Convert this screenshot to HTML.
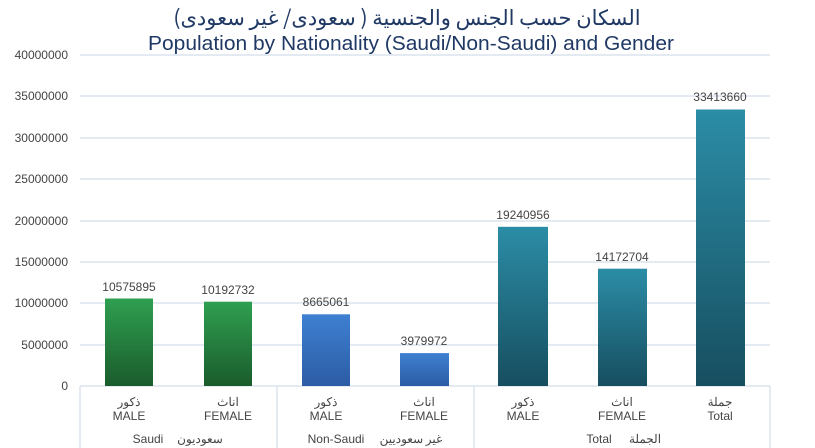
<!DOCTYPE html>
<html><head><meta charset="utf-8"><style>
body{margin:0;background:#fff;}
svg{display:block;font-family:"Liberation Sans","Noto Sans CJK SC",sans-serif;}
</style></head><body>
<svg width="815" height="448" viewBox="0 0 815 448">
<defs>
<linearGradient id="g" x1="0" y1="0" x2="0" y2="1"><stop offset="0" stop-color="#2f9f50"/><stop offset="1" stop-color="#1a5c2c"/></linearGradient>
<linearGradient id="b" x1="0" y1="0" x2="0" y2="1"><stop offset="0" stop-color="#3e80d2"/><stop offset="1" stop-color="#2c5ca4"/></linearGradient>
<linearGradient id="t" x1="0" y1="0" x2="0" y2="1"><stop offset="0" stop-color="#2b8da6"/><stop offset="1" stop-color="#174e60"/></linearGradient>
</defs>
<rect width="815" height="448" fill="#fff"/>
<text x="407" y="25" font-size="21" text-anchor="middle" fill="#1f3864" font-family="'Noto Sans CJK SC',sans-serif">السكان حسب الجنس والجنسية ( سعودى/ غير سعودى)</text>
<text x="411" y="50" font-size="20.5" text-anchor="middle" fill="#1f3864" textLength="526" lengthAdjust="spacingAndGlyphs">Population by Nationality (Saudi/Non-Saudi)  and Gender</text>
<g stroke="#dbe4ee" stroke-width="1.5">
<line x1="80" y1="55" x2="770" y2="55"/><line x1="80" y1="96" x2="770" y2="96"/><line x1="80" y1="138" x2="770" y2="138"/><line x1="80" y1="179" x2="770" y2="179"/><line x1="80" y1="221" x2="770" y2="221"/><line x1="80" y1="262" x2="770" y2="262"/><line x1="80" y1="303" x2="770" y2="303"/><line x1="80" y1="345" x2="770" y2="345"/><line x1="80" y1="386" x2="770" y2="386"/>
<line x1="80" y1="386" x2="80" y2="448"/><line x1="277" y1="386" x2="277" y2="448"/><line x1="474" y1="386" x2="474" y2="448"/><line x1="770" y1="386" x2="770" y2="448"/>
</g>
<g font-size="12" fill="#444" text-anchor="end">
<text x="68" y="59">40000000</text><text x="68" y="100">35000000</text><text x="68" y="142">30000000</text><text x="68" y="183">25000000</text><text x="68" y="225">20000000</text><text x="68" y="266">15000000</text><text x="68" y="307">10000000</text><text x="68" y="349">5000000</text><text x="68" y="390">0</text>
</g>
<rect x="105" y="298.5" width="48" height="87.5" fill="url(#g)"/>
<rect x="204" y="301.7" width="48" height="84.3" fill="url(#g)"/>
<rect x="302" y="314.3" width="48" height="71.7" fill="url(#b)"/>
<rect x="400" y="353.1" width="49" height="32.9" fill="url(#b)"/>
<rect x="498" y="226.8" width="50" height="159.2" fill="url(#t)"/>
<rect x="598" y="268.7" width="49" height="117.3" fill="url(#t)"/>
<rect x="696" y="109.5" width="49" height="276.5" fill="url(#t)"/>
<g font-size="12" fill="#444" text-anchor="middle">
<text x="129" y="291">10575895</text><text x="228" y="294">10192732</text><text x="326" y="306">8665061</text><text x="424" y="345">3979972</text><text x="523" y="219">19240956</text><text x="622" y="261">14172704</text><text x="720" y="101">33413660</text>
</g>
<g font-size="12" fill="#444" text-anchor="middle">
<text x="129" y="406" font-family="'Noto Sans CJK SC',sans-serif">ذكور</text><text x="129" y="420">MALE</text>
<text x="228" y="406" font-family="'Noto Sans CJK SC',sans-serif">اناث</text><text x="228" y="420">FEMALE</text>
<text x="326" y="406" font-family="'Noto Sans CJK SC',sans-serif">ذكور</text><text x="326" y="420">MALE</text>
<text x="424" y="406" font-family="'Noto Sans CJK SC',sans-serif">اناث</text><text x="424" y="420">FEMALE</text>
<text x="523" y="406" font-family="'Noto Sans CJK SC',sans-serif">ذكور</text><text x="523" y="420">MALE</text>
<text x="622" y="406" font-family="'Noto Sans CJK SC',sans-serif">اناث</text><text x="622" y="420">FEMALE</text>
<text x="720" y="406" font-family="'Noto Sans CJK SC',sans-serif">جملة</text><text x="720" y="420">Total</text>
<text x="148" y="443">Saudi</text><text x="200" y="443" font-family="'Noto Sans CJK SC',sans-serif">سعوديون</text>
<text x="336" y="443">Non-Saudi</text><text x="411" y="443" font-family="'Noto Sans CJK SC',sans-serif">غير سعوديين</text>
<text x="599" y="443">Total</text><text x="645" y="443" font-family="'Noto Sans CJK SC',sans-serif">الجملة</text>
</g>
</svg>
</body></html>
